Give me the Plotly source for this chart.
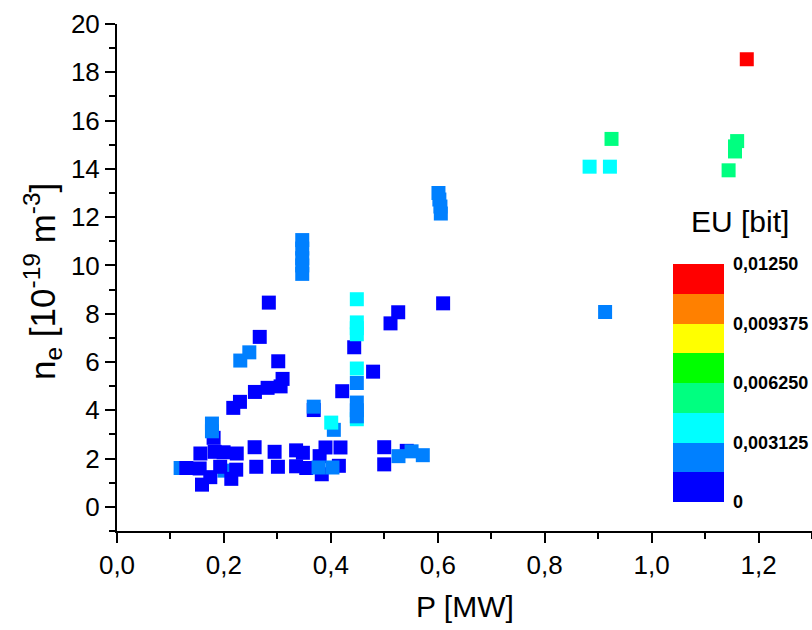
import plotly.graph_objects as go

# Data in drawing order (later points are drawn on top)
P_MW = [0.119, 0.201, 0.4486, 0.368, 0.383, 0.415, 0.542,
        0.1297, 0.156, 0.1546, 0.159, 0.1807, 0.1826, 0.1745, 0.1994, 0.193, 0.2138,
        0.224, 0.223, 0.2574, 0.2605, 0.2948, 0.301, 0.335, 0.335, 0.3477, 0.354,
        0.379, 0.39, 0.418, 0.4998, 0.4998,
        0.2175, 0.23, 0.258, 0.2817, 0.306, 0.3097, 0.3016, 0.267, 0.284,
        0.4213, 0.479, 0.4437, 0.5116, 0.526, 0.610,
        0.1776, 0.1776, 0.2306, 0.2475, 0.3465, 0.3465, 0.3465, 0.3465, 0.3465,
        0.368, 0.377, 0.403, 0.4056, 0.4486, 0.4486, 0.4486, 0.4486,
        0.5265, 0.551, 0.572, 0.6013, 0.603, 0.605, 0.6057, 0.913,
        0.4007, 0.4486, 0.4486, 0.4486, 0.4486, 0.4486, 0.884, 0.922,
        0.925, 1.160, 1.156, 1.156, 1.144,
        1.178]
ne = [1.61, 1.50, 3.63, 4.01, 1.35, 1.70, 2.32,
      1.61, 2.21, 1.59, 0.92, 2.86, 2.28, 1.23, 2.26, 1.66, 1.16,
      2.21, 1.54, 2.47, 1.66, 2.28, 1.66, 2.34, 1.68, 2.24, 1.61,
      2.10, 2.46, 2.46, 2.47, 1.76,
      4.10, 4.35, 4.76, 4.93, 4.99, 5.30, 6.03, 7.04, 8.46,
      4.79, 5.60, 6.61, 7.60, 8.06, 8.43,
      3.45, 3.13, 6.06, 6.40, 11.05, 10.7, 10.3, 10.0, 9.65,
      4.15, 1.63, 1.63, 3.19, 5.13, 4.32, 4.0, 3.75,
      2.10, 2.30, 2.14, 13.0, 12.73, 12.44, 12.15, 8.07,
      3.49, 5.73, 7.64, 7.40, 7.15, 8.60, 14.09, 14.09,
      15.24, 15.15, 14.93, 14.72, 13.94,
      18.54]
EU = ([0.0023, 0.0023, 0.0039] + [0.0008] * 4 +
      [0.0008] * 25 +
      [0.0008] * 9 +
      [0.0008] * 6 +
      [0.0023] * 9 +
      [0.0023] * 8 +
      [0.0023] * 8 +
      [0.0039] * 8 +
      [0.0055] * 5 +
      [0.0120])

cbar_ticks = [0, 0.003125, 0.00625, 0.009375, 0.0125]
cbar_labels = ["0", "0,003125", "0,006250", "0,009375", "0,01250"]
band_colors = ["#0000FF", "#0080FF", "#00FFFF", "#00FF80",
               "#00FF00", "#FFFF00", "#FF8000", "#FF0000"]

colorscale = []
n = len(band_colors)
for i, c in enumerate(band_colors):
    colorscale.append([i / n, c])
    colorscale.append([(i + 1) / n, c])

FONT = "Liberation Sans, Arial, sans-serif"

fig = go.Figure()
fig.add_trace(go.Scatter(
    x=P_MW, y=ne, mode="markers",
    marker=dict(
        symbol="square", size=14, line=dict(width=0),
        color=EU, cmin=0, cmax=0.0125, colorscale=colorscale,
        showscale=True,
        colorbar=dict(
            x=0.80, xanchor="left", xpad=0,
            y=0.2919, yanchor="middle", ypad=0,
            thickness=51, len=238, lenmode="pixels",
            outlinewidth=0,
            tickvals=cbar_ticks, ticktext=cbar_labels,
            ticks="outside", ticklen=6, tickcolor="rgba(0,0,0,0)",
            tickfont=dict(family=FONT, size=18, color="black", weight="bold"),
        ),
    ),
    showlegend=False,
))

fig.update_layout(
    width=812, height=630,
    margin=dict(l=117, r=0, t=24, b=99),
    plot_bgcolor="white", paper_bgcolor="white",
    separators=", ",
    font=dict(family=FONT, color="black"),
    xaxis=dict(
        range=[0, 1.3], tick0=0, dtick=0.2, tickformat=".1f",
        showgrid=False, zeroline=False,
        showline=True, linecolor="black", linewidth=2,
        ticks="outside", ticklen=10, tickwidth=2, tickcolor="black",
        minor=dict(dtick=0.1, ticks="outside", ticklen=6, tickwidth=2, tickcolor="black"),
        tickfont=dict(family=FONT, size=26),
    ),
    yaxis=dict(
        range=[-1, 20], tick0=0, dtick=2,
        showgrid=False, zeroline=False,
        showline=True, linecolor="black", linewidth=2,
        ticks="outside", ticklen=10, tickwidth=2, tickcolor="black",
        minor=dict(dtick=1, ticks="outside", ticklen=6, tickwidth=2, tickcolor="black"),
        tickfont=dict(family=FONT, size=26),
    ),
    annotations=[
        dict(text="P [MW]", x=0.5, y=(531 - 607) / 507, xref="paper", yref="paper",
             xanchor="center", yanchor="middle",
             showarrow=False, font=dict(family=FONT, size=30)),
        dict(text="n<sub>e</sub> [10<sup>-19</sup> m<sup>-3</sup>]", textangle=-90,
             x=(43 - 117) / 695, y=(531 - 282) / 507, xref="paper", yref="paper",
             xanchor="center", yanchor="middle",
             showarrow=False, font=dict(family=FONT, size=35)),
        dict(text="EU [bit]", x=0.8964, y=0.6095, xref="paper", yref="paper",
             xanchor="center", yanchor="middle",
             showarrow=False, font=dict(family=FONT, size=30)),
    ],
)

fig.write_html("out.html")
